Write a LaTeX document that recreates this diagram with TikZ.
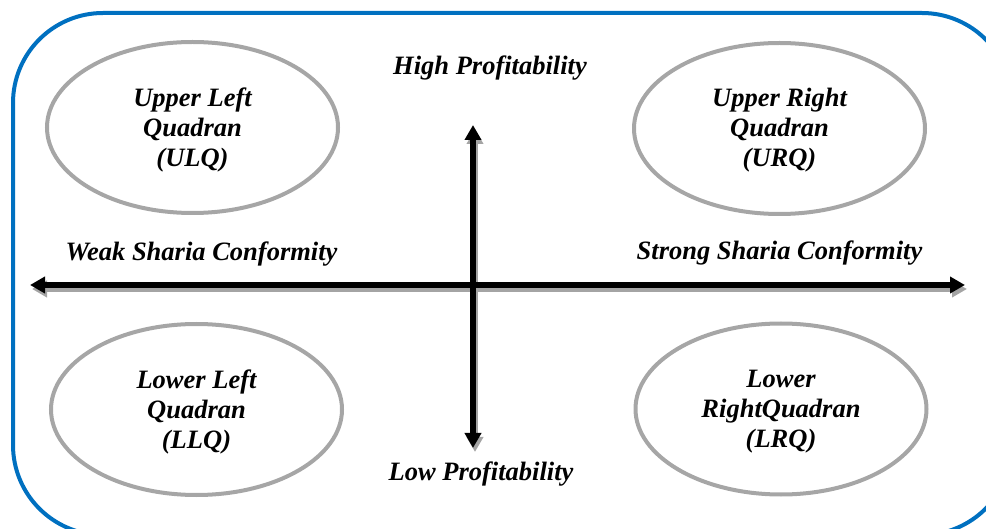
\documentclass[tikz,border=0pt]{standalone}
\usepackage{fontspec}
\setmainfont{Liberation Serif}
\usetikzlibrary{shapes.geometric,arrows.meta}
\definecolor{frameblue}{HTML}{0070C0}
\definecolor{ringgray}{HTML}{A6A6A6}
\definecolor{shadegray}{HTML}{A4A4A4}
\begin{document}
\begin{tikzpicture}[x=1pt,y=-1pt,
  quad/.style={ellipse, draw=ringgray, line width=4pt,
    minimum width=291pt, minimum height=171pt, inner sep=0pt},
  lbl/.style={font=\fontsize{26.5}{30}\selectfont\bfseries\itshape,
    align=center, inner sep=0pt, anchor=base},
  axisline/.style={line width=5.5pt,
    {Triangle[length=15pt,width=16pt]}-{Triangle[length=15pt,width=16pt]}},
  axisshade/.style={axisline, draw=shadegray, fill=shadegray,
    transform canvas={xshift=2pt,yshift=-4pt}}
]
\useasboundingbox (0,0) rectangle (986,529);
\clip (0,0) rectangle (986,529);

% outer frame, running off the right and bottom edges
\draw[frameblue, line width=4pt, rounded corners=90pt] (13,13) rectangle (1012,535);

% quadrant ellipses
\node[quad] (ulq) at (192.5,127.5) {};
\node[quad] (urq) at (779.5,128.5) {};
\node[quad] (llq) at (196.5,409.5) {};
\node[quad] (lrq) at (781,409) {};

% multi-line labels sit on the baseline of their last line
\node[lbl] (ulqtext) at (192.5,167) {Upper Left\\Quadran\\(ULQ)};
\node[lbl] (urqtext) at (779.5,167) {Upper Right\\Quadran\\(URQ)};
\node[lbl] (llqtext) at (196.5,448) {Lower Left\\Quadran\\(LLQ)};
\node[lbl] (lrqtext) at (781,447) {Lower\\RightQuadran\\(LRQ)};

% axes
\coordinate (west) at (30,285);
\coordinate (east) at (965,285);
\coordinate (north) at (473,125);
\coordinate (south) at (473,448);

\draw[axisshade] (west) -- (east);
\draw[axisshade] (north) -- (south);
\draw[axisline] (west) -- (east);
\draw[axisline] (north) -- (south);

% axis labels
\node[lbl] (high) at (490,75) {High Profitability};
\node[lbl] (low) at (481,480) {Low Profitability};
\node[lbl] (weak) at (201.5,261) {Weak Sharia Conformity};
\node[lbl] (strong) at (779.5,260) {Strong Sharia Conformity};
\end{tikzpicture}
\end{document}
